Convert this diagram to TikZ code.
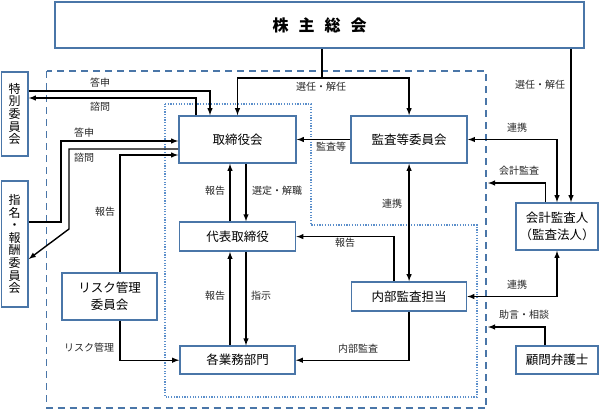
\documentclass[tikz,border=0pt]{standalone}
\usepackage{fontspec}
\setmainfont{Noto Sans CJK JP}
\usepackage{tikz}
\usetikzlibrary{arrows, positioning}

\definecolor{boxblue}{HTML}{4A76A8}
\definecolor{dotblue}{HTML}{5B8FCB}

\begin{document}
\begin{tikzpicture}[x=1pt, y=-1pt, >=latex,
    orgbox/.style={draw=boxblue, line width=1.6pt, fill=white, rectangle, inner sep=0pt,
      font=\fontsize{12.5}{17}\selectfont, align=center},
    vbox/.style={orgbox, font=\fontsize{12}{12.6}\selectfont},
    flow/.style={line width=1.4pt},
    linklabel/.style={font=\fontsize{10}{11}\selectfont, text=black!85, inner sep=0pt}]
\useasboundingbox (0,0) rectangle (600,410);

% company boundary and executive area
\draw[boxblue, line width=1.8pt, dash pattern=on 7pt off 5pt] (46.5,71) rectangle (486,408);
\draw[dotblue, line width=1.3pt, dash pattern=on 1.2pt off 1.5pt]
  (165,104) -- (311,104) -- (311,225) -- (477,225) -- (477,397) -- (165,397) -- cycle;

% boxes
\node (kabunushi) [orgbox, minimum width=529pt, minimum height=46pt, font=\fontsize{16}{18}\selectfont\bfseries] at (319.5,25) {株\hspace{10pt}主\hspace{10pt}総\hspace{10pt}会};
\node (tokubetsu) [vbox, minimum width=26.5pt, minimum height=84pt] at (14.75,114) {特\\別\\委\\員\\会};
\node (shimei) [vbox, minimum width=26.5pt, minimum height=126pt] at (14.75,244) {指\\名\\・\\報\\酬\\委\\員\\会};
\node (risk) [orgbox, minimum width=95pt, minimum height=47pt] at (109.5,296.5) {リスク管理\\委員会};
\node (torishimari) [orgbox, minimum width=117pt, minimum height=47pt] at (237.5,139.5) {取締役会};
\node (kansa) [orgbox, minimum width=116pt, minimum height=47pt, right=53.5pt of torishimari] {監査等委員会};
\node (daihyo) [orgbox, minimum width=116pt, minimum height=29pt, below=57.5pt of torishimari] {代表取締役};
\node (gyomu) [orgbox, minimum width=115pt, minimum height=28pt, below=93.5pt of daihyo] {各業務部門};
\node (naibu) [orgbox, minimum width=115pt, minimum height=29pt] at (409,296.5) {内部監査担当};
\node (kaikei) [orgbox, minimum width=82pt, minimum height=47pt] at (557,226.5) {会計監査人\\（監査法人）};
\node (bengoshi) [orgbox, minimum width=82pt, minimum height=28pt] at (557,360) {顧問弁護士};

% shareholders meeting
\coordinate (split) at (322,78);
\draw[flow] (kabunushi.south -| split) -- (split);
\draw[flow,->] (split) -| (torishimari.north);
\draw[flow,->] (split) -| (kansa.north);
\coordinate (kk) at ([xshift=14pt]kaikei.north);
\draw[flow,->] (kabunushi.south -| kk) -- (kk);

% committees
\draw[flow,->] ([yshift=23pt]tokubetsu.east) -| ([xshift=-27.5pt]torishimari.north);
\draw[flow,->] ([xshift=-41.5pt]torishimari.north) |- ([yshift=16pt]tokubetsu.east);
\draw[flow,->] ([yshift=22pt]shimei.east) -| (61,141) -- (torishimari.west |- 61,141);
\draw[flow,->] ([yshift=-9.5pt]torishimari.west) -| (69,229) -- ([yshift=-15pt]shimei.east);
\draw[flow,->] ([xshift=10.5pt]risk.north) |- ([yshift=-15.5pt]torishimari.west);
\draw[flow,->] ([xshift=10.5pt]risk.south) |- (gyomu.west);

% execution line
\draw[flow,->] (kansa.west) -- (torishimari.east);
\draw[flow,->] ([xshift=-7.5pt]daihyo.north) -- ([xshift=-7.5pt]torishimari.south);
\draw[flow,->] ([xshift=8.5pt]torishimari.south) -- ([xshift=8.5pt]daihyo.north);
\draw[flow,->] ([xshift=-7.5pt]gyomu.north) -- ([xshift=-7.5pt]daihyo.south);
\draw[flow,->] ([xshift=8.5pt]daihyo.south) -- ([xshift=8.5pt]gyomu.north);

% internal audit
\draw[flow,->] ([xshift=-15pt]naibu.north) |- (daihyo.east);
\draw[flow,<->] (kansa.south) -- (kansa.south |- naibu.north);
\draw[flow,->] (naibu.south) |- (gyomu.east);

% outside
\draw[flow,<->] (kansa.east) -| (kaikei.north);
\coordinate (audit) at (488,183);
\draw[flow,->] ([xshift=-11.5pt]kaikei.north) |- (audit);
\draw[flow,<->] (kaikei.south) |- (naibu.east);
\coordinate (advice) at (488,327);
\draw[flow,->] ([xshift=-12pt]bengoshi.north) |- (advice);

% labels
\node (l_tousin1) [linklabel] at (100,83) {答申};
\node (l_shimon1) [linklabel] at (100,107) {諮問};
\node (l_tousin2) [linklabel] at (84,133) {答申};
\node (l_shimon2) [linklabel] at (84,158) {諮問};
\node (l_houkoku1) [linklabel] at (105,212) {報告};
\node (l_risk) [linklabel] at (89,348) {リスク管理};
\node (l_senin1) [linklabel] at (321,87) {選任・解任};
\node (l_senin2) [linklabel] at (540,85) {選任・解任};
\node (l_kansatou) [linklabel] at (331,147) {監査等};
\node (l_houkoku2) [linklabel] at (215,191) {報告};
\node (l_sentei) [linklabel] at (277,191) {選定・解職};
\node (l_houkoku3) [linklabel] at (215,296) {報告};
\node (l_shiji) [linklabel] at (261,296) {指示};
\node (l_houkoku4) [linklabel] at (345,243) {報告};
\node (l_renkei1) [linklabel] at (392,204) {連携};
\node (l_naibu) [linklabel] at (358,349) {内部監査};
\node (l_renkei2) [linklabel] at (517,128) {連携};
\node (l_kaikei) [linklabel] at (519,171) {会計監査};
\node (l_renkei3) [linklabel] at (517,285) {連携};
\node (l_jogen) [linklabel] at (524,315) {助言・相談};
\end{tikzpicture}
\end{document}
